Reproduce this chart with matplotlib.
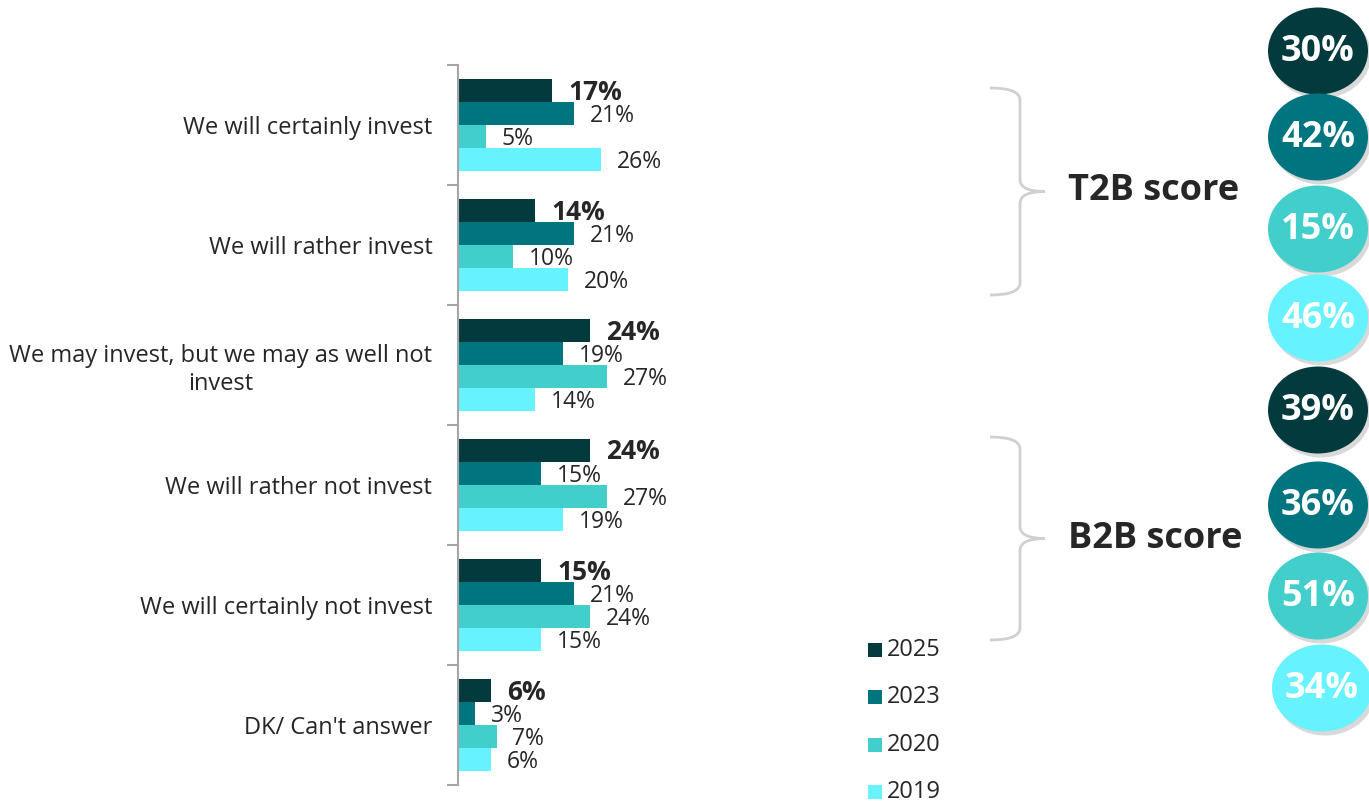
import matplotlib

matplotlib.use('Agg')
import matplotlib.pyplot as plt
from matplotlib.patches import Ellipse, Rectangle, PathPatch
from matplotlib.path import Path
import numpy as np

plt.rcParams['font.family'] = ['Open Sans', 'DejaVu Sans']

categories = ['We will certainly invest', 'We will rather invest',
              'We may invest, but we may as well not\ninvest', 'We will rather not invest',
              'We will certainly not invest', "DK/ Can't answer"]
years = ['2025', '2023', '2020', '2019']
v2025 = [17, 14, 24, 24, 15, 6]
v2023 = [21, 21, 19, 15, 21, 3]
v2020 = [5, 10, 27, 27, 24, 7]
v2019 = [26, 20, 14, 19, 15, 6]
t2b = [30, 42, 15, 46]
b2b = [39, 36, 51, 34]
colors = ['#023A3E', '#007580', '#42CFCB', '#66F2FF']

W, H = 1369, 802
fig = plt.figure(figsize=(W / 100, H / 100), dpi=100)

# bar chart area
ax = fig.add_axes([458 / W, 17 / H, 165 / W, 720 / H])
series = [v2025, v2023, v2020, v2019]
h = 0.19
y = np.arange(len(categories))
for k, vals in enumerate(series):
    pos = y + (k - 1.5) * h
    ax.barh(pos, vals, height=h, color=colors[k], edgecolor='none')
    for p, v in zip(pos, vals):
        if k == 0:
            ax.text(v + 3.0, p + 0.01, f'{v}%', va='center', ha='left', fontsize=19,
                    fontweight='bold', color='#262626', clip_on=False)
        else:
            ax.text(v + 2.9, p + 0.02, f'{v}%', va='center', ha='left', fontsize=16.5,
                    color='#262626', clip_on=False)

ax.set_xlim(0, 30)
ax.set_ylim(len(categories) - 0.5, -0.5)
for s in ['top', 'right', 'bottom']:
    ax.spines[s].set_visible(False)
ax.spines['left'].set_color('#A6A6A6')
ax.spines['left'].set_linewidth(1.5)
ax.set_xticks([])
ax.set_yticks(np.arange(-0.5, len(categories), 1))
ax.set_yticklabels([])
ax.tick_params(axis='y', which='major', length=8, width=1.5, color='#A6A6A6')
ax.set_yticks(y, minor=True)
ax.set_yticklabels(categories, minor=True, fontsize=17, color='#262626')
ax.tick_params(axis='y', which='minor', length=0, pad=18.5)
for lab in ax.get_yticklabels(minor=True):
    lab.set_horizontalalignment('right')
    lab.set_multialignment('center')

# overlay in pixel coordinates for the decorations
ov = fig.add_axes([0, 0, 1, 1], facecolor='none')
ov.set_xlim(0, W)
ov.set_ylim(H, 0)
ov.axis('off')


def brace(y0, y1, x0=990, x1=1020, tip=1045):
    ym = (y0 + y1) / 2
    verts = [(x0, y0), (x1, y0), (x1, y0 + 12), (x1, y0 + 12),
             (x1, ym - 12), (x1, ym), (tip, ym),
             (x1, ym), (x1, ym + 12),
             (x1, y1 - 12), (x1, y1 - 12), (x1, y1), (x0, y1)]
    codes = [Path.MOVETO, Path.CURVE3, Path.CURVE3, Path.LINETO,
             Path.LINETO, Path.CURVE3, Path.CURVE3,
             Path.CURVE3, Path.CURVE3,
             Path.LINETO, Path.LINETO, Path.CURVE3, Path.CURVE3]
    ov.add_patch(PathPatch(Path(verts, codes), fill=False, edgecolor='#D0D0D0', lw=2))
    return ym


ym = brace(88, 295)
ov.text(1068, ym, 'T2B score', fontsize=26, fontweight='bold', color='#262626', va='center', ha='left')
ym = brace(437, 640)
ov.text(1068, ym, 'B2B score', fontsize=26, fontweight='bold', color='#262626', va='center', ha='left')

# score bubbles
centers = [51, 137, 229, 318, 410, 505, 596, 688]
xs = [1318] * 7 + [1322]
for i, v in enumerate(t2b + b2b):
    cx, cy = xs[i], centers[i]
    ov.add_patch(Ellipse((cx + 3, cy + 4), 100, 87, color='#000000', alpha=0.15, lw=0))
    ov.add_patch(Ellipse((cx, cy), 100, 87, color=colors[i % 4], lw=0))
    ov.text(cx, cy + 1, f'{v}%', fontsize=26, fontweight='bold', color='white', ha='center', va='center')

# legend
leg_y = [650, 697, 745, 792]
for c, yr, ly in zip(colors, years, leg_y):
    ov.add_patch(Rectangle((868, ly - 7), 14, 14, color=c, lw=0))
    ov.text(887, ly, yr, fontsize=17, color='#262626', va='center', ha='left')

fig.savefig('out.png', dpi=100)
